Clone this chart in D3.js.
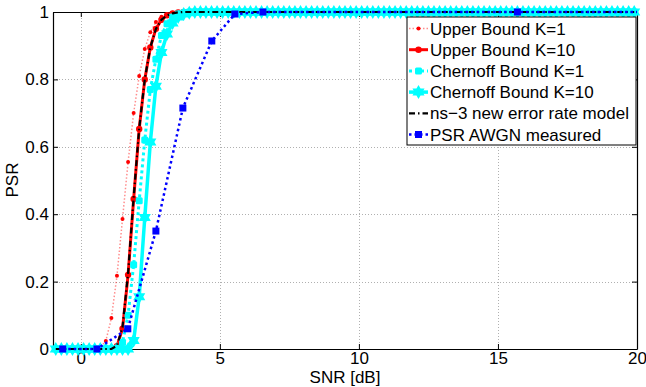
<!DOCTYPE html>
<html>
<head>
<meta charset="utf-8">
<script src="https://cdn.jsdelivr.net/npm/d3@7"></script>
<style>
  body { margin: 0; background: #fff; }
  text { font-family: "Liberation Sans", Arial, sans-serif; }
</style>
</head>
<body>
<svg id="chart" width="646" height="387"></svg>
<script>
// SNR sample points of the analytical curves (dB)
const snrGrid = [
  -0.9, -0.7, -0.5, -0.3, -0.1, 0.1, 0.3, 0.5, 0.7, 0.9,
  1.1, 1.3, 1.5, 1.7, 1.9, 2.1, 2.3, 2.5, 2.7, 2.9,
  3.1, 3.3, 3.5, 3.7, 3.9, 4.1, 4.3, 4.5, 4.7, 4.9,
  5.1, 5.3, 5.5, 5.7, 5.9, 6.1, 6.3, 6.5, 6.7, 6.9,
  7.1, 7.3, 7.5, 7.7, 7.9, 8.1, 8.3, 8.5, 8.7, 8.9,
  9.1, 9.3, 9.5, 9.7, 9.9, 10.1, 10.3, 10.5, 10.7, 10.9,
  11.1, 11.3, 11.5, 11.7, 11.9, 12.1, 12.3, 12.5, 12.7, 12.9,
  13.1, 13.3, 13.5, 13.7, 13.9, 14.1, 14.3, 14.5, 14.7, 14.9,
  15.1, 15.3, 15.5, 15.7, 15.9, 16.1, 16.3, 16.5, 16.7, 16.9,
  17.1, 17.3, 17.5, 17.7, 17.9, 18.1, 18.3, 18.5, 18.7, 18.9,
  19.1, 19.3, 19.5, 19.7, 19.9
];

const upperK1 = [
  0, 0, 0, 0, 0, 0, 0, 0, 0.004, 0.024,
  0.092, 0.217, 0.386, 0.555, 0.70, 0.81, 0.89, 0.94, 0.97, 0.986,
  0.994, 0.998, 1, 1, 1, 1, 1, 1, 1, 1,
  1, 1, 1, 1, 1, 1, 1, 1, 1, 1,
  1, 1, 1, 1, 1, 1, 1, 1, 1, 1,
  1, 1, 1, 1, 1, 1, 1, 1, 1, 1,
  1, 1, 1, 1, 1, 1, 1, 1, 1, 1,
  1, 1, 1, 1, 1, 1, 1, 1, 1, 1,
  1, 1, 1, 1, 1, 1, 1, 1, 1, 1,
  1, 1, 1, 1, 1, 1, 1, 1, 1, 1,
  1, 1, 1, 1, 1
];

const upperK10 = [
  0, 0, 0, 0, 0, 0, 0, 0, 0, 0,
  0, 0.008, 0.06, 0.22, 0.445, 0.653, 0.80, 0.895, 0.95, 0.977,
  0.99, 0.996, 0.999, 1, 1, 1, 1, 1, 1, 1,
  1, 1, 1, 1, 1, 1, 1, 1, 1, 1,
  1, 1, 1, 1, 1, 1, 1, 1, 1, 1,
  1, 1, 1, 1, 1, 1, 1, 1, 1, 1,
  1, 1, 1, 1, 1, 1, 1, 1, 1, 1,
  1, 1, 1, 1, 1, 1, 1, 1, 1, 1,
  1, 1, 1, 1, 1, 1, 1, 1, 1, 1,
  1, 1, 1, 1, 1, 1, 1, 1, 1, 1,
  1, 1, 1, 1, 1
];

const chernoffK1 = [
  0, 0, 0, 0, 0, 0, 0, 0, 0, 0,
  0, 0, 0.02, 0.10, 0.25, 0.44, 0.62, 0.77, 0.86, 0.93,
  0.965, 0.985, 0.994, 0.998, 1, 1, 1, 1, 1, 1,
  1, 1, 1, 1, 1, 1, 1, 1, 1, 1,
  1, 1, 1, 1, 1, 1, 1, 1, 1, 1,
  1, 1, 1, 1, 1, 1, 1, 1, 1, 1,
  1, 1, 1, 1, 1, 1, 1, 1, 1, 1,
  1, 1, 1, 1, 1, 1, 1, 1, 1, 1,
  1, 1, 1, 1, 1, 1, 1, 1, 1, 1,
  1, 1, 1, 1, 1, 1, 1, 1, 1, 1,
  1, 1, 1, 1, 1
];

const chernoffK10 = [
  0, 0, 0, 0, 0, 0, 0, 0, 0, 0,
  0, 0, 0, 0, 0.025, 0.155, 0.39, 0.614, 0.78, 0.88,
  0.935, 0.967, 0.985, 0.994, 0.998, 1, 1, 1, 1, 1,
  1, 1, 1, 1, 1, 1, 1, 1, 1, 1,
  1, 1, 1, 1, 1, 1, 1, 1, 1, 1,
  1, 1, 1, 1, 1, 1, 1, 1, 1, 1,
  1, 1, 1, 1, 1, 1, 1, 1, 1, 1,
  1, 1, 1, 1, 1, 1, 1, 1, 1, 1,
  1, 1, 1, 1, 1, 1, 1, 1, 1, 1,
  1, 1, 1, 1, 1, 1, 1, 1, 1, 1,
  1, 1, 1, 1, 1
];

const ns3Model = [
  0, 0, 0, 0, 0, 0, 0, 0, 0, 0,
  0, 0.01, 0.065, 0.225, 0.45, 0.655, 0.80, 0.895, 0.95, 0.977,
  0.99, 0.996, 0.999, 1, 1, 1, 1, 1, 1, 1,
  1, 1, 1, 1, 1, 1, 1, 1, 1, 1,
  1, 1, 1, 1, 1, 1, 1, 1, 1, 1,
  1, 1, 1, 1, 1, 1, 1, 1, 1, 1,
  1, 1, 1, 1, 1, 1, 1, 1, 1, 1,
  1, 1, 1, 1, 1, 1, 1, 1, 1, 1,
  1, 1, 1, 1, 1, 1, 1, 1, 1, 1,
  1, 1, 1, 1, 1, 1, 1, 1, 1, 1,
  1, 1, 1, 1, 1
];

// measured points
const measuredSnr = [-0.65, 0.58, 1.69, 2.70, 3.67, 4.71, 5.54, 6.55, 15.7, 20];
const measuredPsr = [0, 0, 0.06, 0.35, 0.715, 0.914, 0.994, 1, 1, 1];

const xTicks = [0, 5, 10, 15, 20];
const yTicks = [0, 0.2, 0.4, 0.6, 0.8, 1];
const legendLabels = [
  'Upper Bound K=1', 'Upper Bound K=10', 'Chernoff Bound K=1',
  'Chernoff Bound K=10', 'ns\u22123 new error rate model', 'PSR AWGN measured'
];

const svg = d3.select('#chart');
svg.append('rect').attr('width', 646).attr('height', 387).attr('fill', '#fff');

const plotLeft = 53, plotRight = 637, plotTop = 12, plotBottom = 349;
const x = d3.scaleLinear().domain([-1, 20]).range([plotLeft, plotRight]);
const y = d3.scaleLinear().domain([0, 1]).range([plotBottom, plotTop]);

// grid
const grid = svg.append('g').attr('stroke', '#b0b0b0').attr('stroke-width', 1)
  .attr('stroke-dasharray', '1,2');
grid.selectAll('.gx').data(xTicks.filter(d => d > -1 && d < 20)).enter().append('line')
  .attr('x1', d => Math.round(x(d)) + 0.5).attr('x2', d => Math.round(x(d)) + 0.5)
  .attr('y1', plotTop).attr('y2', plotBottom);
grid.selectAll('.gy').data(yTicks.filter(d => d > 0 && d < 1)).enter().append('line')
  .attr('y1', d => Math.round(y(d)) + 0.5).attr('y2', d => Math.round(y(d)) + 0.5)
  .attr('x1', plotLeft).attr('x2', plotRight);

// axes box + inward ticks
const axisG = svg.append('g');
const xAxisB = d3.axisBottom(x).tickValues(xTicks).tickSizeInner(-5).tickSizeOuter(0).tickPadding(3);
const xAxisT = d3.axisTop(x).tickValues(xTicks).tickSizeInner(-5).tickSizeOuter(0).tickFormat('');
const yAxisL = d3.axisLeft(y).tickValues(yTicks).tickSizeInner(-5).tickSizeOuter(0).tickPadding(4)
  .tickFormat(d => d === 0 || d === 1 ? String(d) : d.toFixed(1));
const yAxisR = d3.axisRight(y).tickValues(yTicks).tickSizeInner(-5).tickSizeOuter(0).tickFormat('');

axisG.append('g').attr('transform', `translate(0,${plotBottom})`).call(xAxisB);
axisG.append('g').attr('transform', `translate(0,${plotTop})`).call(xAxisT);
axisG.append('g').attr('transform', `translate(${plotLeft},0)`).call(yAxisL);
axisG.append('g').attr('transform', `translate(${plotRight},0)`).call(yAxisR);
axisG.selectAll('path.domain').attr('stroke', '#000').attr('stroke-width', 1.2);
axisG.selectAll('.tick line').attr('stroke', '#000');
axisG.selectAll('.tick text').attr('font-size', 17).attr('fill', '#000')
  .style('font-family', '"Liberation Sans", Arial, sans-serif');

// axis labels
svg.append('text').attr('x', 345).attr('y', 383).attr('text-anchor', 'middle')
  .attr('font-size', 17).text('SNR [dB]');
svg.append('text').attr('transform', 'translate(18,180) rotate(-90)').attr('text-anchor', 'middle')
  .attr('font-size', 17).text('PSR');

// marker helpers
function hexagram(R) {
  const r = R / Math.sqrt(3);
  const pts = [];
  for (let k = 0; k < 12; k++) {
    const a = -Math.PI / 2 + k * Math.PI / 6;
    const rr = k % 2 === 0 ? R : r;
    pts.push([rr * Math.cos(a), rr * Math.sin(a)]);
  }
  return 'M' + pts.map(p => p.join(',')).join('L') + 'Z';
}

const series = [
  { values: upperK1, color: '#ff0000', width: 1.5, dash: '1.5,2', opacity: 0.45, marker: 'dot', size: 2 },
  { values: upperK10, color: '#ff0000', width: 3, dash: null, opacity: 1, marker: 'dot', size: 3.2 },
  { values: chernoffK1, color: '#00ffff', width: 3, dash: '3,3', opacity: 1, marker: 'square', size: 7 },
  { values: chernoffK10, color: '#00ffff', width: 3.5, dash: null, opacity: 1, marker: 'hex', size: 7 },
  { values: ns3Model, color: '#000000', width: 2.2, dash: '6,3,1.5,3', opacity: 1, marker: null }
];

const line = d3.line().x(d => x(d[0])).y(d => y(d[1]));

function drawMarkers(g, pts, s) {
  if (s.marker === 'dot') {
    g.selectAll('circle').data(pts).enter().append('circle')
      .attr('cx', d => x(d[0])).attr('cy', d => y(d[1])).attr('r', s.size).attr('fill', s.color);
  } else if (s.marker === 'square') {
    g.selectAll('rect').data(pts).enter().append('rect')
      .attr('x', d => x(d[0]) - s.size / 2).attr('y', d => y(d[1]) - s.size / 2)
      .attr('width', s.size).attr('height', s.size).attr('rx', 1.5).attr('fill', s.color);
  } else if (s.marker === 'hex') {
    g.selectAll('path.mk').data(pts).enter().append('path').attr('class', 'mk')
      .attr('transform', d => `translate(${x(d[0])},${y(d[1])})`)
      .attr('d', hexagram(s.size)).attr('fill', s.color);
  }
}

const plot = svg.append('g');
series.forEach(s => {
  const pts = snrGrid.map((v, i) => [v, s.values[i]]);
  const g = plot.append('g');
  g.append('path').datum(pts).attr('d', line).attr('fill', 'none')
    .attr('stroke', s.color).attr('stroke-width', s.width)
    .attr('stroke-opacity', s.opacity)
    .attr('stroke-dasharray', s.dash);
  drawMarkers(g, pts, s);
});

// measured curve
const mPts = measuredSnr.map((v, i) => [v, measuredPsr[i]]);
const mg = plot.append('g');
mg.append('path').datum(mPts).attr('d', line).attr('fill', 'none')
  .attr('stroke', '#0000ff').attr('stroke-width', 2.5).attr('stroke-dasharray', '2.5,3');
mg.selectAll('rect').data(mPts.slice(0, -1)).enter().append('rect')
  .attr('x', d => x(d[0]) - 3.5).attr('y', d => y(d[1]) - 3.5)
  .attr('width', 7).attr('height', 7).attr('fill', '#0000ff');

// legend
const lg = svg.append('g').attr('transform', 'translate(407,17)');
lg.append('rect').attr('width', 229).attr('height', 128).attr('fill', '#fff')
  .attr('stroke', '#000').attr('stroke-width', 1);
const legendStyles = series.concat([{ color: '#0000ff', width: 2.5, dash: '2.5,3', opacity: 1, marker: 'square', size: 7 }]);
legendStyles.forEach((s, i) => {
  const cy = 11.5 + i * 21.2;
  const row = lg.append('g');
  row.append('line').attr('x1', 2).attr('x2', 21).attr('y1', cy).attr('y2', cy)
    .attr('stroke', s.color).attr('stroke-width', s.width)
    .attr('stroke-opacity', s.opacity).attr('stroke-dasharray', s.dash);
  if (s.marker === 'dot') {
    row.append('circle').attr('cx', 11.5).attr('cy', cy).attr('r', s.size).attr('fill', s.color);
  } else if (s.marker === 'square') {
    row.append('rect').attr('x', 11.5 - s.size / 2).attr('y', cy - s.size / 2)
      .attr('width', s.size).attr('height', s.size).attr('rx', i === 2 ? 1.5 : 0).attr('fill', s.color);
  } else if (s.marker === 'hex') {
    row.append('path').attr('transform', `translate(11.5,${cy})`).attr('d', hexagram(s.size)).attr('fill', s.color);
  }
  row.append('text').attr('x', 23).attr('y', cy + 6).attr('font-size', 17).text(legendLabels[i]);
});
</script>
</body>
</html>
